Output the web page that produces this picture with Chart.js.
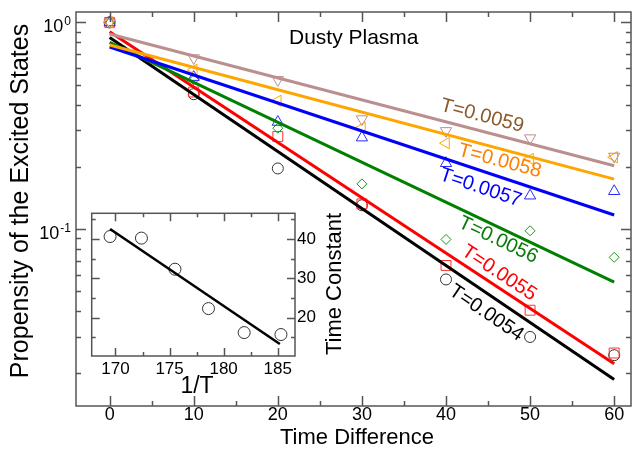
<!DOCTYPE html>
<html>
<head>
<meta charset="utf-8">
<script src="https://cdn.jsdelivr.net/npm/chart.js@4.4.1/dist/chart.umd.min.js"></script>
<style>
  body { margin: 0; background: #fff; }
  #wrap { position: relative; width: 639px; height: 451px; }
  #main { position: absolute; left: 0; top: 0; }
  #inset { position: absolute; left: 80px; top: 200px; }
</style>
</head>
<body>
<div id="wrap">
  <canvas id="main" width="639" height="451"></canvas>
  <canvas id="inset" width="275" height="205"></canvas>
</div>
<script>
const FONT = '"Liberation Sans", Arial, Helvetica, sans-serif';

// measured propensities, one array per temperature
const temps = ['0.0054', '0.0055', '0.0056', '0.0057', '0.0058', '0.0059'];
const timeDiff = [0, 10, 20, 30, 40, 50, 60];
const p0054 = [1.0, 0.449, 0.196, 0.130, 0.0568, 0.0299, 0.0244];
const p0055 = [1.0, 0.46, 0.280, 0.132, 0.0664, 0.0403, 0.0250];
const p0056 = [1.0, 0.527, 0.307, 0.165, 0.0888, 0.0978, 0.0727];
const p0057 = [1.0, 0.543, 0.329, 0.2765, 0.2077, 0.1446, 0.152];
const p0058 = [1.0, 0.589, 0.417, 0.309, 0.260, 0.218, 0.222];
const p0059 = [1.0, 0.672, 0.527, 0.340, 0.298, 0.275, 0.224];

// exponential fits (straight on the log axis), ends at t=0 and t=60
const fitTime = [0, 60];
const fit0054 = [0.846, 0.0186];
const fit0055 = [0.901, 0.0222];
const fit0056 = [0.800, 0.0551];
const fit0057 = [0.760, 0.1166];
const fit0058 = [0.777, 0.174];
const fit0059 = [0.878, 0.202];

// inset: time constant against 1/T
const invT = [169.5, 172.4, 175.5, 178.6, 181.9, 185.3];
const tauC = [40.6, 40.2, 32.3, 22.3, 16.2, 15.7];
const invTFit = [169.5, 185.2];
const tauFit = [42.5, 13.3];

// axis ticks
const xTicks = [0, 10, 20, 30, 40, 50, 60];
const xMinor = [5, 15, 25, 35, 45, 55];
const yDecades = [1, 0.1];
const yExponents = ['0', '-1'];
const yMinor = [0.02, 0.03, 0.04, 0.05, 0.06, 0.07, 0.08, 0.09, 0.2, 0.3, 0.4, 0.5, 0.6, 0.7, 0.8, 0.9];
const insetXTicks = [170, 175, 180, 185];
const insetXMinor = [172.5, 177.5, 182.5];
const insetYTicks = [20, 30, 40];
const insetYMinor = [15, 25, 35, 45];

// where the T= tags sit along each fit line (data units)
const tagTime = [44.8, 46.3, 46.2, 44.1, 46.4, 44.3];
const tagProp = [0.039, 0.061, 0.0881, 0.158, 0.213, 0.352];

const points = [p0054, p0055, p0056, p0057, p0058, p0059];
const fits = [fit0054, fit0055, fit0056, fit0057, fit0058, fit0059];
const looks = [
  { line: '#000000', mark: '#333333', text: '#000000', shape: 'circle', rot: 0, r: 5.5 },
  { line: '#ff0000', mark: '#ff3030', text: '#ff0000', shape: 'rect', rot: 0, r: 7 },
  { line: '#008000', mark: '#1a961a', text: '#0a7a0a', shape: 'rectRot', rot: 0, r: 5 },
  { line: '#0000ff', mark: '#2a2aff', text: '#0000ff', shape: 'triangle', rot: 0, r: 6.5 },
  { line: '#ffa500', mark: '#ffa500', text: '#ff7f00', shape: 'triangle', rot: 270, r: 6.5 },
  { line: '#bc8f8f', mark: '#bc8f8f', text: '#8b5a2b', shape: 'triangle', rot: 180, r: 6.5 }
];

// box around the plot with inward ticks on all four sides
const frameTicks = {
  id: 'frameTicks',
  afterDatasetsDraw(chart, args, o) {
    const { ctx, chartArea: a } = chart;
    const xs = chart.scales.x, ys = chart.scales.y;
    ctx.save();
    ctx.strokeStyle = o.color;
    ctx.lineWidth = o.width;
    ctx.beginPath();
    const xt = (vals, len) => vals.forEach(v => {
      const px = Math.round(xs.getPixelForValue(v)) + 0.5;
      ctx.moveTo(px, a.bottom); ctx.lineTo(px, a.bottom - len);
      ctx.moveTo(px, a.top); ctx.lineTo(px, a.top + len);
    });
    const yt = (vals, len) => vals.forEach(v => {
      const py = Math.round(ys.getPixelForValue(v)) + 0.5;
      ctx.moveTo(a.left, py); ctx.lineTo(a.left + len, py);
      ctx.moveTo(a.right, py); ctx.lineTo(a.right - len, py);
    });
    xt(o.xMajor, o.major); xt(o.xMinor, o.minor);
    yt(o.yMajor, o.major); yt(o.yMinor, o.minor);
    ctx.stroke();
    ctx.strokeRect(a.left, a.top, a.right - a.left, a.bottom - a.top);
    ctx.restore();
  }
};

// free text: axis titles, plot title, decade labels and the T= tags
const mainText = {
  id: 'mainText',
  afterDraw(chart) {
    const { ctx } = chart;
    const xs = chart.scales.x, ys = chart.scales.y;
    ctx.save();
    ctx.fillStyle = '#000';
    ctx.textBaseline = 'middle';
    ctx.textAlign = 'left';
    ctx.font = '21px ' + FONT;
    ctx.fillText('Dusty Plasma', 289, 38);

    ctx.textAlign = 'center';
    ctx.font = '22px ' + FONT;
    ctx.fillText('Time Difference', 357, 438);

    ctx.save();
    ctx.translate(21, 201);
    ctx.rotate(-Math.PI / 2);
    ctx.font = '25px ' + FONT;
    ctx.fillText('Propensity of the Excited States', 0, 0);
    ctx.restore();

    // 10^n labels on the log axis
    yDecades.forEach((v, i) => {
      const py = ys.getPixelForValue(v);
      ctx.font = '12px ' + FONT;
      ctx.textAlign = 'right';
      ctx.textBaseline = 'alphabetic';
      const right = chart.chartArea.left - 5;
      ctx.fillText(yExponents[i], right, py + 3);
      const ew = ctx.measureText(yExponents[i]).width;
      ctx.font = '18px ' + FONT;
      ctx.fillText('10', right - ew - 1, py + 10);
    });

    // T= tags, turned to follow their fit line
    temps.forEach((t, i) => {
      const x0 = xs.getPixelForValue(fitTime[0]), y0 = ys.getPixelForValue(fits[i][0]);
      const x1 = xs.getPixelForValue(fitTime[1]), y1 = ys.getPixelForValue(fits[i][1]);
      ctx.save();
      ctx.translate(xs.getPixelForValue(tagTime[i]), ys.getPixelForValue(tagProp[i]));
      ctx.rotate(Math.atan2(y1 - y0, x1 - x0));
      ctx.font = '20px ' + FONT;
      ctx.fillStyle = looks[i].text;
      ctx.textAlign = 'center';
      ctx.textBaseline = 'middle';
      ctx.fillText('T=' + t, 0, 0);
      ctx.restore();
    });
    ctx.restore();
  }
};

const fitSets = fits.map((f, i) => ({
  data: fitTime.map((t, k) => ({ x: t, y: f[k] })),
  borderColor: looks[i].line,
  borderWidth: 3,
  pointRadius: 0,
  fill: false
}));
const markSets = points.map((p, i) => ({
  data: timeDiff.map((t, k) => ({ x: t, y: p[k] })),
  showLine: false,
  pointStyle: looks[i].shape,
  rotation: looks[i].rot,
  pointRadius: looks[i].r,
  pointBorderColor: looks[i].mark,
  pointBackgroundColor: 'rgba(0,0,0,0)',
  pointBorderWidth: 1
}));

new Chart(document.getElementById('main'), {
  type: 'line',
  data: { datasets: [...fitSets.reverse(), ...markSets.reverse()] },
  options: {
    responsive: false,
    animation: false,
    layout: { padding: { left: 76, top: 12, right: 1, bottom: 0 } },
    plugins: {
      legend: { display: false },
      tooltip: { enabled: false },
      frameTicks: {
        color: '#555', width: 1.5, major: 10, minor: 5,
        xMajor: xTicks, xMinor: xMinor, yMajor: yDecades, yMinor: yMinor
      }
    },
    scales: {
      x: {
        type: 'linear',
        min: -4, max: 62,
        grid: { display: false, drawTicks: false },
        border: { display: false },
        afterBuildTicks: s => { s.ticks = xTicks.map(v => ({ value: v })); },
        afterFit: s => { s.height = 45; },
        ticks: { color: '#000', padding: 0, font: { family: FONT, size: 18, lineHeight: 1 } }
      },
      y: {
        type: 'logarithmic',
        min: 0.01384, max: 1.123,
        display: false
      }
    }
  },
  plugins: [frameTicks, mainText]
});

// inset panel
const insetText = {
  id: 'insetText',
  beforeDatasetsDraw(chart) {
    const { ctx, chartArea: a } = chart;
    ctx.save();
    ctx.fillStyle = '#fff';
    ctx.fillRect(a.left, a.top, a.right - a.left, a.bottom - a.top);
    ctx.restore();
  },
  afterDraw(chart) {
    const { ctx } = chart;
    ctx.save();
    ctx.fillStyle = '#000';
    ctx.textAlign = 'center';
    ctx.textBaseline = 'middle';
    ctx.font = '23px ' + FONT;
    ctx.fillText('1/T', 117, 187);
    ctx.translate(255, 84);
    ctx.rotate(-Math.PI / 2);
    ctx.font = '22px ' + FONT;
    ctx.fillText('Time Constant', 0, 0);
    ctx.restore();
  }
};

new Chart(document.getElementById('inset'), {
  type: 'line',
  data: {
    datasets: [
      {
        data: invTFit.map((v, k) => ({ x: v, y: tauFit[k] })),
        borderColor: '#000', borderWidth: 2.5, pointRadius: 0
      },
      {
        data: invT.map((v, k) => ({ x: v, y: tauC[k] })),
        showLine: false, pointStyle: 'circle', pointRadius: 6,
        pointBorderColor: '#333', pointBorderWidth: 1, pointBackgroundColor: 'rgba(0,0,0,0)'
      }
    ]
  },
  options: {
    responsive: false,
    animation: false,
    layout: { padding: { left: 11.7, top: 13.3, right: 0, bottom: 0 } },
    plugins: {
      legend: { display: false },
      tooltip: { enabled: false },
      frameTicks: {
        color: '#555', width: 1.5, major: 8, minor: 4,
        xMajor: insetXTicks, xMinor: insetXMinor, yMajor: insetYTicks, yMinor: insetYMinor
      }
    },
    scales: {
      x: {
        type: 'linear',
        min: 167.8, max: 186.6,
        grid: { display: false, drawTicks: false },
        border: { display: false },
        afterBuildTicks: s => { s.ticks = insetXTicks.map(v => ({ value: v })); },
        afterFit: s => { s.height = 49; },
        ticks: { color: '#000', padding: 5, font: { family: FONT, size: 17, lineHeight: 1 } }
      },
      y: {
        type: 'linear',
        position: 'right',
        min: 10.25, max: 46.5,
        grid: { display: false, drawTicks: false },
        border: { display: false },
        afterBuildTicks: s => { s.ticks = insetYTicks.map(v => ({ value: v })); },
        afterFit: s => { s.width = 60; },
        ticks: { color: '#000', padding: 2, font: { family: FONT, size: 17, lineHeight: 1 } }
      }
    }
  },
  plugins: [frameTicks, insetText]
});
</script>
</body>
</html>
